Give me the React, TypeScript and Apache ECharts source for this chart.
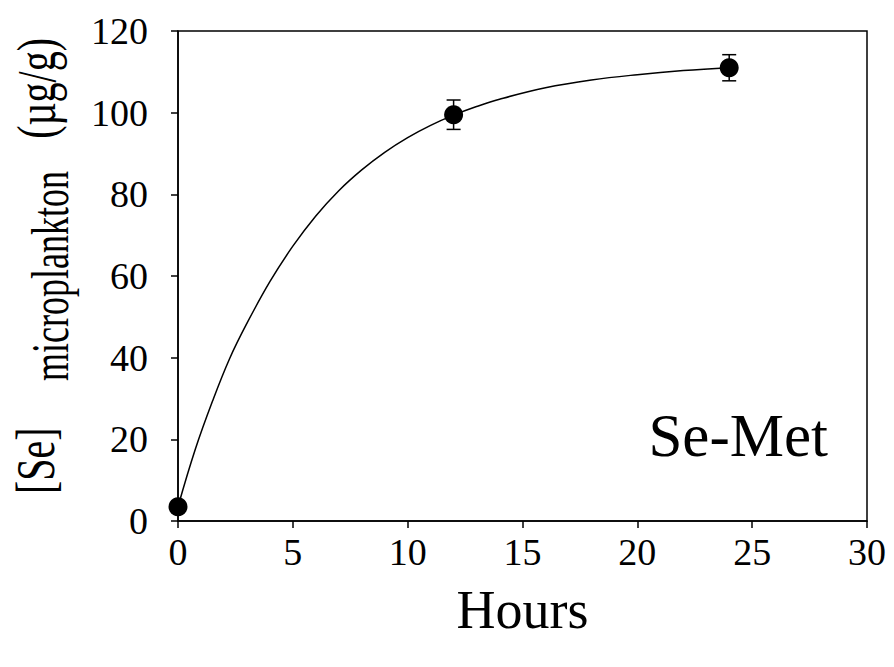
import React, { useEffect, useRef } from "react";
import * as echarts from "echarts";

// Measured uptake: hours, concentration (µg/g), error (±)
const hours = [0, 12, 24];
const seConc = [3.5, 99.5, 111];
const seErr = [0, 3.6, 3.2];

// Fitted uptake curve, sampled along its path
const fitHours = [0, 0.75, 1.5, 2.25, 3, 4, 5, 6, 7, 8, 9, 10, 11, 12, 13, 14, 16, 18, 20, 22, 24];
const fitConc = [3.5, 17.5, 29.3, 39.8, 48.4, 58.6, 67.3, 74.7, 80.9, 86, 90.3, 93.9, 96.9, 99.4, 101.5, 103.3, 106.1, 108, 109.3, 110.3, 111];

const xTicks = { min: 0, max: 30, interval: 5 };
const yTicks = { min: 0, max: 120, interval: 20 };

const SERIF = "Liberation Serif, Times New Roman, serif";

export default function App() {
  const ref = useRef<HTMLDivElement>(null);

  useEffect(() => {
    if (!ref.current) return;
    const chart = echarts.init(ref.current, undefined, { renderer: "svg" });

    const points = hours.map((h, i) => [h, seConc[i]]);
    const bars = hours.map((h, i) => [h, seConc[i] - seErr[i], seConc[i] + seErr[i]]);
    const fit = fitHours.map((h, i) => [h, fitConc[i]]);

    // the vertical title glyphs are taller than wide, so each piece is stretched across the baseline
    const titleText = (text: string, x: number, y: number, size: number, stretch: number, align: string) => ({
      type: "text",
      x,
      y,
      scaleY: stretch,
      style: {
        text,
        fontFamily: SERIF,
        fontSize: size,
        fill: "#000",
        align,
        verticalAlign: "middle",
      },
    });

    chart.setOption({
      animation: false,
      backgroundColor: "#fff",
      textStyle: { fontFamily: SERIF, color: "#000" },
      grid: {
        left: 178,
        top: 31,
        width: 689,
        height: 490,
        show: true,
        borderColor: "#000",
        borderWidth: 1.5,
        backgroundColor: "transparent",
      },
      xAxis: {
        type: "value",
        ...xTicks,
        name: "Hours",
        nameLocation: "middle",
        nameGap: 62,
        nameTextStyle: { fontFamily: SERIF, fontSize: 54, color: "#000" },
        axisLine: { show: true, lineStyle: { color: "#000", width: 1.5 } },
        axisTick: { show: true, inside: false, length: 7, lineStyle: { color: "#000", width: 1.5 } },
        axisLabel: { fontFamily: SERIF, fontSize: 38, color: "#000", margin: 12 },
        splitLine: { show: false },
      },
      yAxis: {
        type: "value",
        ...yTicks,
        axisLine: { show: true, lineStyle: { color: "#000", width: 1.5 } },
        axisTick: { show: true, inside: false, length: 7, lineStyle: { color: "#000", width: 1.5 } },
        axisLabel: { fontFamily: SERIF, fontSize: 38, color: "#000", margin: 30 },
        splitLine: { show: false },
      },
      graphic: [
        {
          // vertical axis title with subscript, laid out along the rotated baseline
          type: "group",
          x: 0,
          y: 276,
          rotation: Math.PI / 2,
          children: [
            titleText("[Se]", -218, 36, 40, 1.35, "left"),
            titleText("microplankton", -105, 51, 36, 1.45, "left"),
            titleText("(µg/g)", 238, 37, 40, 1.35, "right"),
          ],
        },
        {
          type: "text",
          right: 66,
          top: 405,
          style: {
            text: "Se-Met",
            fontFamily: SERIF,
            fontSize: 61,
            fill: "#000",
          },
        },
      ],
      series: [
        {
          type: "line",
          data: fit,
          smooth: 0.4,
          showSymbol: false,
          lineStyle: { color: "#000", width: 1.5 },
          z: 2,
        },
        {
          type: "custom",
          data: bars,
          z: 3,
          renderItem: (params: any, api: any) => {
            const x = api.value(0);
            const lo = api.coord([x, api.value(1)]);
            const hi = api.coord([x, api.value(2)]);
            const cap = 7;
            const style = { stroke: "#000", lineWidth: 1.5 };
            return {
              type: "group",
              children: [
                { type: "line", shape: { x1: lo[0], y1: lo[1], x2: hi[0], y2: hi[1] }, style },
                { type: "line", shape: { x1: lo[0] - cap, y1: lo[1], x2: lo[0] + cap, y2: lo[1] }, style },
                { type: "line", shape: { x1: hi[0] - cap, y1: hi[1], x2: hi[0] + cap, y2: hi[1] }, style },
              ],
            };
          },
        },
        {
          type: "scatter",
          data: points,
          symbol: "circle",
          symbolSize: 19,
          itemStyle: { color: "#000", opacity: 1 },
          z: 4,
        },
      ],
    });

    return () => chart.dispose();
  }, []);

  return <div ref={ref} style={{ width: 894, height: 667, position: "absolute", left: 0, top: 0 }} />;
}
